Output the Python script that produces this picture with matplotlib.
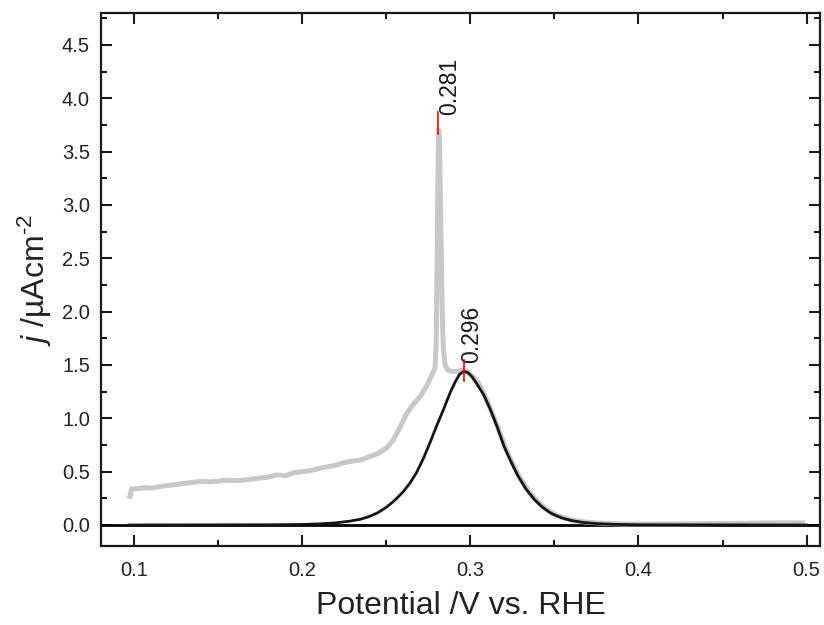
import matplotlib
matplotlib.use("Agg")
import matplotlib.pyplot as plt
from matplotlib.ticker import MultipleLocator, FormatStrFormatter

plt.rcParams['font.family'] = ['Liberation Sans', 'DejaVu Sans']
plt.rcParams['mathtext.fontset'] = 'custom'
plt.rcParams['mathtext.rm'] = 'Liberation Sans'
plt.rcParams['mathtext.it'] = 'Liberation Sans:italic'

# measured voltammogram (gray)
meas_x = [0.0976, 0.0986, 0.102, 0.106, 0.110, 0.115, 0.120, 0.125, 0.130, 0.135,
          0.140, 0.145, 0.150, 0.155, 0.160, 0.165, 0.170, 0.175, 0.180, 0.185,
          0.190, 0.195, 0.200, 0.205, 0.210, 0.215, 0.220, 0.225, 0.230, 0.235,
          0.240, 0.245, 0.250, 0.254, 0.258, 0.262, 0.266, 0.270, 0.274, 0.277,
          0.2790, 0.2797, 0.2803, 0.2808, 0.2812, 0.2816, 0.2821, 0.2827, 0.2833,
          0.2840, 0.2850, 0.2866, 0.289, 0.292, 0.295, 0.298, 0.301, 0.305, 0.309,
          0.313, 0.317, 0.321, 0.325, 0.330, 0.335, 0.340, 0.345, 0.350, 0.356,
          0.362, 0.370, 0.380, 0.390, 0.400, 0.420, 0.440, 0.460, 0.480, 0.4976]
meas_y = [0.27, 0.34, 0.34, 0.35, 0.345, 0.36, 0.37, 0.38, 0.39, 0.40,
          0.41, 0.405, 0.41, 0.42, 0.415, 0.42, 0.43, 0.44, 0.45, 0.47,
          0.46, 0.49, 0.50, 0.51, 0.53, 0.545, 0.56, 0.585, 0.60, 0.61,
          0.64, 0.67, 0.72, 0.79, 0.91, 1.04, 1.13, 1.20, 1.30, 1.40,
          1.47, 1.70, 2.50, 3.30, 3.70, 3.62, 3.20, 2.60, 2.00,
          1.65, 1.50, 1.45, 1.44, 1.44, 1.45, 1.44, 1.40, 1.33, 1.20,
          1.05, 0.89, 0.72, 0.58, 0.43, 0.31, 0.22, 0.15, 0.10, 0.065,
          0.04, 0.025, 0.015, 0.01, 0.01, 0.01, 0.012, 0.015, 0.02, 0.02]

# fitted peak (black)
fit_x = [0.097, 0.180, 0.200, 0.210, 0.220, 0.228, 0.235, 0.240, 0.245, 0.250,
         0.255, 0.260, 0.264, 0.268, 0.272, 0.276, 0.280, 0.284, 0.288, 0.291,
         0.2935, 0.296, 0.2985, 0.301, 0.304, 0.308, 0.312, 0.316, 0.320, 0.324,
         0.328, 0.333, 0.338, 0.343, 0.348, 0.354, 0.360, 0.367, 0.375, 0.385,
         0.400, 0.500]
fit_y = [0.0, 0.002, 0.005, 0.01, 0.02, 0.035, 0.055, 0.08, 0.115, 0.165,
         0.23, 0.31, 0.39, 0.49, 0.62, 0.77, 0.93, 1.08, 1.24, 1.34,
         1.41, 1.44, 1.43, 1.39, 1.32, 1.22, 1.08, 0.92, 0.74, 0.60,
         0.47, 0.34, 0.24, 0.165, 0.11, 0.068, 0.042, 0.024, 0.013, 0.006,
         0.002, 0.0]

# peak markers
peak_pos = [0.281, 0.296]
peak_lo = [3.67, 1.35]
peak_hi = [3.87, 1.55]
peak_labels = ["0.281", "0.296"]
label_x = [0.2880, 0.3008]
label_y = [3.84, 1.52]

fig = plt.figure(figsize=(8.24, 6.25), dpi=100)
ax = fig.add_axes([0.1226, 0.1264, 0.8726, 0.8528])

ax.axhline(0, color='black', lw=2.0, zorder=2)
ax.plot(meas_x, meas_y, color='#c8c8c8', lw=3.6, solid_joinstyle='round', zorder=3)
ax.plot(fit_x, fit_y, color='#151515', lw=2.0, solid_joinstyle='round', zorder=4)

for px, lo, hi, lab, lx, ly in zip(peak_pos, peak_lo, peak_hi, peak_labels, label_x, label_y):
    ax.plot([px, px], [lo, hi], color='red', lw=1.2, zorder=5)
    ax.text(lx, ly, lab, rotation=90, ha='center', va='bottom', fontsize=16.5,
            color='#1a1a1a')

ax.set_xlim(0.0804, 0.508)
ax.set_ylim(-0.197, 4.80)

ax.xaxis.set_major_locator(MultipleLocator(0.1))
ax.xaxis.set_minor_locator(MultipleLocator(0.05))
ax.yaxis.set_major_locator(MultipleLocator(0.5))
ax.yaxis.set_minor_locator(MultipleLocator(0.25))
ax.xaxis.set_major_formatter(FormatStrFormatter('%.1f'))
ax.yaxis.set_major_formatter(FormatStrFormatter('%.1f'))

ax.tick_params(which='both', direction='in', top=True, right=True, width=1.5,
               colors='#1a1a1a', labelcolor='#222222')
ax.tick_params(which='major', length=8, labelsize=14.5)
ax.tick_params(axis='x', which='major', pad=11)
ax.tick_params(axis='y', which='major', pad=8)
ax.tick_params(which='minor', length=4.5)
for s in ax.spines.values():
    s.set_linewidth(1.6)
    s.set_color('#1a1a1a')

ax.set_xlabel('Potential /V vs. RHE', fontsize=23, color='#222222', labelpad=8)
ax.set_ylabel(r'$\it{j}$ /µAcm$^{\text{-2}}$', fontsize=23, color='#222222', labelpad=6)

fig.savefig('out.png', dpi=100)
